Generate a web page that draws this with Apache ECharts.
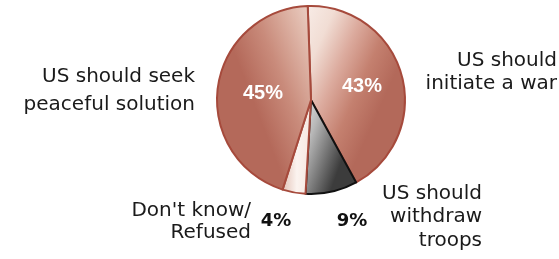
<!DOCTYPE html>
<html>
<head>
<meta charset="utf-8">
<script src="https://cdn.jsdelivr.net/npm/echarts@6/dist/echarts.min.js"></script>
<style>
  html, body { margin: 0; padding: 0; background: #fff; }
  #chart { width: 559px; height: 259px; }
</style>
</head>
<body>
<div id="chart"></div>
<script>
// survey answers, clockwise from 12 o'clock
const categories = ['US should\ninitiate a war', 'US should\nwithdraw\ntroops', "Don't know/\nRefused", 'US should seek\npeaceful solution'];
const values = [43, 9, 4, 45];

// label spots (name / percent), per slice
const nameSpots = [
  { x: 557, y: 72, lh: 23 },
  { x: 482, y: 217, lh: 23.5 },
  { x: 251, y: 222, lh: 22.5 },
  { x: 195, y: 91, lh: 27.5 }
];
const pctSpots = [
  { x: 362, y: 86, inside: true },
  { x: 352, y: 221, inside: false },
  { x: 276, y: 221, inside: false },
  { x: 263, y: 93, inside: true }
];

function grad(x2, y2, stops) {
  return new echarts.graphic.LinearGradient(0, 0, x2, y2, stops.map((c, i) => ({
    offset: i / (stops.length - 1),
    color: c
  })));
}

const fills = [
  grad(1, 0.25, ['#f8ece7', '#f1ddd4', '#dcab9e', '#c4806f', '#b3695a']),
  grad(1, 0.2, ['#e6e6e6', '#b8b8b8', '#7a7a7a', '#3c3c3c']),
  grad(1, 0, ['#e2bfb3', '#fbf3ef', '#f6e6df']),
  grad(1, -0.2, ['#b4695a', '#c98b7b', '#e0b8aa', '#f4e2da'])
];
const borders = ['#a64a3c', '#111', '#a64a3c', '#a64a3c'];

let chart = echarts.init(document.getElementById('chart'));

const pieBase = {
  type: 'pie',
  center: [311, 100],
  radius: [0, 94],
  startAngle: 92,
  clockwise: true,
  avoidLabelOverlap: false,
  labelLine: { show: false },
  emphasis: { disabled: true },
  animation: false
};

chart.setOption({
  backgroundColor: '#fff',
  series: [
    Object.assign({}, pieBase, {
      name: 'pct',
      z: 2,
      data: values.map((v, i) => ({
        value: v,
        name: categories[i],
        itemStyle: { color: fills[i], borderColor: borders[i], borderWidth: 2 },
        label: pctSpots[i].inside
          ? { color: '#fff', fontFamily: 'Liberation Sans', fontWeight: 'bold', fontSize: 20 }
          : { color: '#111', fontFamily: 'DejaVu Sans', fontWeight: 'bold', fontSize: 18 }
      })),
      label: {
        show: true,
        formatter: p => p.value + '%'
      },
      labelLayout: p => {
        const s = pctSpots[p.dataIndex];
        return { x: s.x, y: s.y, align: 'center', verticalAlign: 'middle' };
      }
    }),
    Object.assign({}, pieBase, {
      name: 'names',
      z: 1,
      silent: true,
      data: values.map((v, i) => ({
        value: v,
        name: categories[i],
        itemStyle: { color: 'transparent', borderWidth: 0 },
        label: { lineHeight: nameSpots[i].lh }
      })),
      label: {
        show: true,
        formatter: p => p.name,
        fontFamily: 'DejaVu Sans',
        fontSize: 20,
        color: '#1a1a1a'
      },
      labelLayout: p => {
        const s = nameSpots[p.dataIndex];
        return { x: s.x, y: s.y, align: 'right', verticalAlign: 'middle' };
      }
    })
  ]
});
</script>
</body>
</html>
